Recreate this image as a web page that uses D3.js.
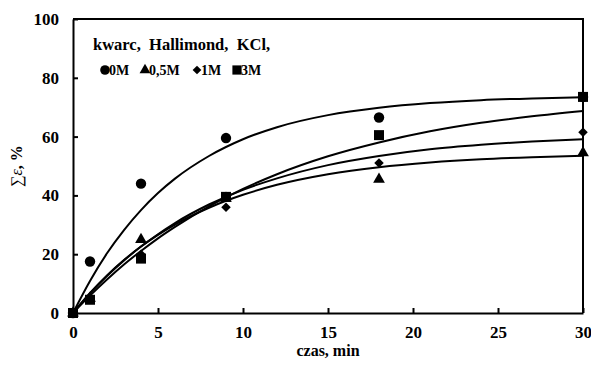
<!DOCTYPE html>
<html>
<head>
<meta charset="utf-8">
<script src="https://cdn.jsdelivr.net/npm/d3@7"></script>
<style>
  body { margin: 0; background: #fff; }
  text { font-family: "Liberation Serif", "Times New Roman", serif; font-weight: bold; fill: #000; }
</style>
</head>
<body>
<div id="chart"></div>
<script>
// measured points (czas, min -> sum eps, %)
const times = [0, 1, 4, 9, 18, 30];
const series = [
    { name: "0M",   symbol: "circle",   values: [0, 17.5, 44, 59.5, 66.5, 73.5] },
    { name: "0,5M", symbol: "triangle", values: [0, 5, 25, 39, 45.5, 54.5] },
    { name: "1M",   symbol: "diamond",  values: [0, 5, 20, 36, 51, 61.5] },
    { name: "3M",   symbol: "square",   values: [0, 4.5, 18.5, 39.5, 60.5, 73.5] }
];

// fitted lines
const curveTimes = [0, 1, 2, 3, 4, 5, 6, 8, 10, 12, 15, 18, 21, 24, 27, 30];
const curve0M  = [0, 10.9, 20.3, 28.2, 35.0, 40.8, 45.7, 53.4, 59.1, 63.2, 67.3, 69.8, 71.4, 72.4, 73.0, 73.4];
const curve05M = [0, 6.8, 12.8, 18.0, 22.6, 26.6, 30.1, 35.8, 40.2, 43.6, 47.2, 49.6, 51.2, 52.3, 53.0, 53.5];
const curve1M  = [0, 6.7, 12.6, 17.9, 22.6, 26.8, 30.6, 36.9, 41.9, 45.8, 50.3, 53.4, 55.7, 57.2, 58.3, 59.1];
const curve3M  = [0, 5.9, 11.4, 16.5, 21.1, 25.4, 29.3, 36.3, 42.2, 47.2, 53.3, 58.0, 61.8, 64.7, 66.9, 68.7];
const curves = [curve0M, curve05M, curve1M, curve3M];

const xTicks = [0, 5, 10, 15, 20, 25, 30];
const yTicks = [0, 20, 40, 60, 80, 100];

const width = 591, height = 368;
const margin = { top: 19, right: 8, bottom: 55, left: 73 };

const svg = d3.select("#chart")
    .append("svg")
        .attr("width", width)
        .attr("height", height);

const x = d3.scaleLinear().domain([0, 30]).range([margin.left, width - margin.right]);
const y = d3.scaleLinear().domain([0, 100]).range([height - margin.bottom, margin.top]);

// Axes with inner ticks
const xAxis = svg.append("g")
    .attr("transform", `translate(0,${y(0)})`)
    .call(d3.axisBottom(x).tickValues(xTicks).tickSizeInner(-5).tickSizeOuter(0).tickPadding(13));
const yAxis = svg.append("g")
    .attr("transform", `translate(${x(0)},0)`)
    .call(d3.axisLeft(y).tickValues(yTicks).tickSizeInner(-5).tickSizeOuter(0).tickPadding(14));

[xAxis, yAxis].forEach(a => {
    a.attr("font-family", null).attr("font-size", null);
    a.select(".domain").attr("stroke", "#000").attr("stroke-width", 2);
    a.selectAll(".tick line").attr("stroke", "#000").attr("stroke-width", 2);
    a.selectAll(".tick text")
        .style("font-family", "'Liberation Serif', serif")
        .style("font-weight", "bold")
        .style("font-size", "17px");
});

// top and right frame
svg.append("path")
    .attr("d", `M${x(0)},${y(100)}H${x(30)}V${y(0)}`)
    .attr("fill", "none")
    .attr("stroke", "#000")
    .attr("stroke-width", 2);

// fitted lines
const line = d3.line()
    .x((d, i) => x(curveTimes[i]))
    .y(d => y(d))
    .curve(d3.curveMonotoneX);

svg.append("g")
    .selectAll("path")
    .data(curves)
    .enter()
    .append("path")
        .attr("d", d => line(d))
        .attr("fill", "none")
        .attr("stroke", "#000")
        .attr("stroke-width", 2);

// markers (diamond = rotated square)
const symbolTypes = {
    circle: [d3.symbolCircle, 85, 0],
    triangle: [d3.symbolTriangle, 60, 0],
    diamond: [d3.symbolSquare, 45, 45],
    square: [d3.symbolSquare, 100, 0]
};
const symbolFor = (s, k = 1) => d3.symbol().type(symbolTypes[s][0]).size(symbolTypes[s][1] * k);

series.forEach(s => {
    svg.append("g")
        .selectAll("path")
        .data(s.values)
        .enter()
        .append("path")
            .attr("d", symbolFor(s.symbol))
            .attr("transform", (d, i) => `translate(${x(times[i])},${y(d)}) rotate(${symbolTypes[s.symbol][2]})`)
            .attr("fill", "#000");
});

// legend
svg.append("text")
    .attr("x", 93)
    .attr("y", 50)
    .attr("font-size", 16.5)
    .attr("xml:space", "preserve")
    .text("kwarc,  Hallimond,  KCl,");

const legendX = [105, 145, 197, 237];
const legend = svg.append("g");
series.forEach((s, i) => {
    legend.append("path")
        .attr("d", symbolFor(s.symbol, 0.85))
        .attr("transform", `translate(${legendX[i]},70) rotate(${symbolTypes[s.symbol][2]})`)
        .attr("fill", "#000");
    legend.append("text")
        .attr("x", legendX[i] + 4)
        .attr("y", 75)
        .attr("font-size", 14)
        .text(s.name);
});

// axis titles
svg.append("text")
    .attr("x", (x(0) + x(30)) / 2)
    .attr("y", 356)
    .attr("text-anchor", "middle")
    .attr("font-size", 16)
    .text("czas, min");

const yTitle = svg.append("text")
    .attr("transform", `translate(22,${(y(0) + y(100)) / 2}) rotate(-90)`)
    .attr("text-anchor", "middle")
    .attr("font-size", 16);
yTitle.append("tspan").style("font-weight", "normal").text("\u2211");
yTitle.append("tspan").style("font-style", "italic").style("font-weight", "normal").text("\u03b5");
yTitle.append("tspan").text(", %");
</script>
</body>
</html>
